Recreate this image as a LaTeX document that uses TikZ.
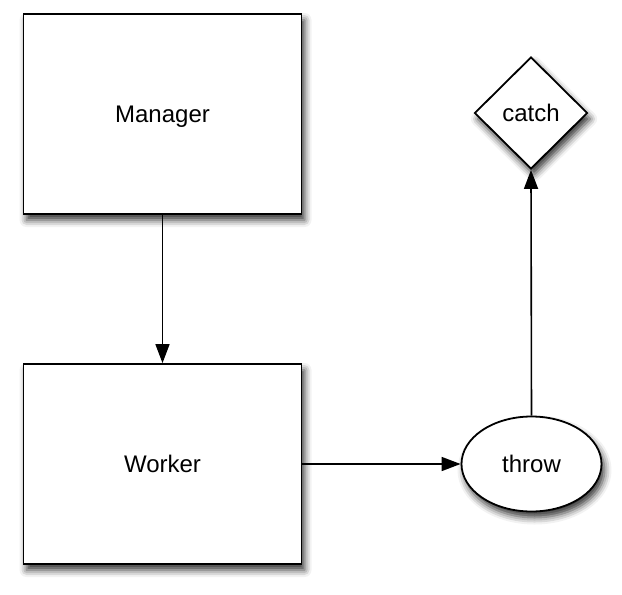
\documentclass[tikz,border=0pt]{standalone}
\usepackage{fontspec}
\setmainfont{Liberation Sans}
\usepackage{tikz}
\usetikzlibrary{shapes}
\usetikzlibrary{arrows}
\usetikzlibrary{arrows.meta}
\usetikzlibrary{positioning}
\usetikzlibrary{shadows.blur}

\tikzset{
    shade box/.style={draw=black,fill=white,line width=1.8pt,text depth=0pt,
        blur shadow={shadow xshift=3pt,shadow yshift=-6pt,shadow blur radius=7pt,shadow opacity=80},
        font=\fontsize{24}{28}\selectfont},
    box/.style={shade box,rectangle,minimum width=278pt,minimum height=200pt},
    oval/.style={shade box,ellipse,inner sep=0pt,minimum width=140pt,minimum height=95pt},
    rhomb/.style={shade box,diamond,inner sep=0pt,minimum width=113pt,minimum height=112pt},
    flow/.style={-{Triangle[length=19pt,width=14pt]},line width=1.6pt}
}

\begin{document}
\begin{tikzpicture}[x=1pt,y=-1pt]

        \useasboundingbox (0,0) rectangle (622,595);

        \node[box] (manager) at (162.5,114) {Manager};
        \node[box] (worker) at (162.5,464) {Worker};
        \node[oval] (throw) at (531.5,464) {throw};
        \node[rhomb] (catch) at (531,113) {catch};

        \draw[flow] (manager.south) -- (worker.north);
        \draw[flow] (worker.east) -- (throw.west);
        \draw[flow] (throw.north) -- (catch.south);

\end{tikzpicture}
\end{document}
